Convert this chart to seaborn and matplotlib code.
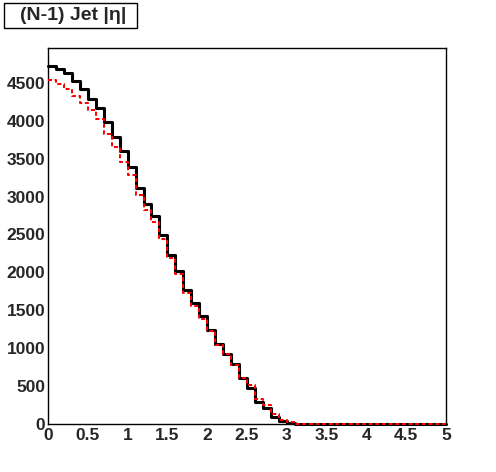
import numpy as np
import pandas as pd
import matplotlib
matplotlib.use("Agg")
import matplotlib.pyplot as plt
import seaborn as sns
from matplotlib.patches import Rectangle
from matplotlib.ticker import MultipleLocator

# ---- data (50 bins of width 0.1 on |eta| from 0 to 5) ----
bin_edges = [round(0.1 * i, 1) for i in range(51)]
black_counts = [4724, 4680, 4627, 4526, 4417, 4293, 4162, 3978, 3789, 3596,
                3386, 3114, 2904, 2741, 2496, 2233, 2017, 1763, 1596, 1421,
                1246, 1061, 930, 785, 609, 469, 294, 215, 88, 35,
                8, 0, 0, 0, 0, 0, 0, 0, 0, 0,
                0, 0, 0, 0, 0, 0, 0, 0, 0, 0]
red_counts = [4535, 4483, 4417, 4329, 4241, 4140, 4022, 3825, 3649, 3452,
              3285, 3026, 2825, 2662, 2443, 2193, 1982, 1728, 1555, 1390,
              1224, 1048, 917, 772, 601, 513, 329, 250, 127, 53,
              20, 5, 2, 2, 2, 2, 2, 2, 2, 2,
              2, 2, 2, 2, 2, 2, 2, 2, 2, 2]
title_text = "(N-1) Jet |\u03b7|"

centers = [(bin_edges[i] + bin_edges[i + 1]) / 2 for i in range(len(bin_edges) - 1)]
df = pd.DataFrame({"eta": centers, "black": black_counts, "red": red_counts})

sns.set_style("white")
plt.rcParams["font.family"] = ["Liberation Sans", "DejaVu Sans"]
plt.rcParams["font.weight"] = "bold"

fig = plt.figure(figsize=(4.96, 4.72), dpi=100)
ax = fig.add_axes([48 / 496, 1 - 424 / 472, (446 - 48) / 496, (424 - 48) / 472])

sns.histplot(data=df, x="eta", weights="black", bins=bin_edges, element="step",
             fill=False, color="black", linewidth=2.2, ax=ax)
sns.histplot(data=df, x="eta", weights="red", bins=bin_edges, element="step",
             fill=False, color="#ff0000", linewidth=1.45, linestyle=(0, (2, 1.3)), ax=ax)
for ln in ax.lines:
    ln.set_clip_on(False)
    ln.set_zorder(3)

ax.set_xlim(0, 5)
ax.set_ylim(0, 4960)
ax.set_xlabel("")
ax.set_ylabel("")
ax.xaxis.set_major_locator(MultipleLocator(0.5))
ax.xaxis.set_minor_locator(MultipleLocator(0.1))
ax.yaxis.set_major_locator(MultipleLocator(500))
ax.yaxis.set_minor_locator(MultipleLocator(100))
ax.set_xticks([0, 0.5, 1, 1.5, 2, 2.5, 3, 3.5, 4, 4.5, 5])
ax.set_xticklabels(["0", "0.5", "1", "1.5", "2", "2.5", "3", "3.5", "4", "4.5", "5"])
ax.tick_params(axis="y", which="major", direction="in", length=12, width=1, labelsize=12.5,
               right=False, pad=2)
ax.tick_params(axis="x", which="major", direction="in", length=12, width=1, labelsize=12.5,
               top=False, pad=3)
ax.tick_params(which="minor", direction="in", length=6, width=1, top=False, right=False)
for lab in ax.get_xticklabels() + ax.get_yticklabels():
    lab.set_fontweight("bold")
for sp in ax.spines.values():
    sp.set_color("black")
    sp.set_linewidth(1.0)

# title box
fig.patches.append(Rectangle((4 / 496, 1 - 28 / 472), (137 - 4) / 496, (28 - 3) / 472,
                             transform=fig.transFigure, facecolor="white",
                             edgecolor="black", linewidth=1.0))
fig.text(73 / 496, 1 - 15.5 / 472, title_text, ha="center", va="center",
         fontsize=14, fontweight="bold")

fig.savefig("out.png", dpi=100, facecolor="white")
